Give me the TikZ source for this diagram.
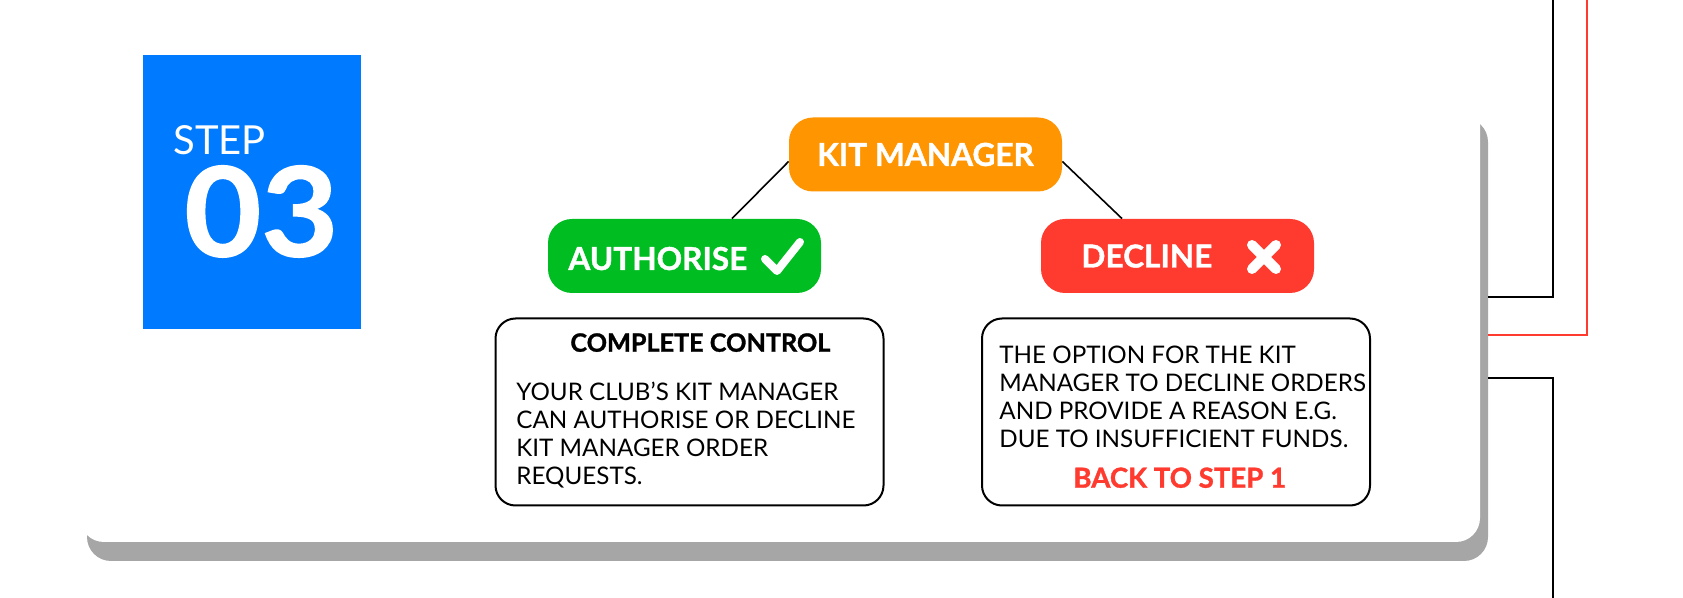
\documentclass[tikz,border=0pt]{standalone}
\usepackage{fontspec}
\setmainfont{Lato}
\newfontfamily\heavyfont{Lato}[BoldFeatures={FakeBold=1.2}]
\usetikzlibrary{positioning,calc}

\definecolor{stepblue}{HTML}{007BFF}
\definecolor{kitorange}{HTML}{FF9500}
\definecolor{okgreen}{HTML}{00BD22}
\definecolor{nored}{HTML}{FF3B30}
\definecolor{shadowgrey}{HTML}{A6A6A6}

\tikzset{
  pill/.style={rounded corners=12pt, minimum width=136.5pt, minimum height=37pt, inner sep=0pt},
  pilltext/.style={text=white, font=\fontsize{15.8}{18}\heavyfont\bfseries, inner sep=0pt},
  infobox/.style={draw, line width=1pt, rounded corners=10pt, minimum width=194pt, minimum height=93.5pt},
  bodytext/.style={font=\fontsize{12.1}{14.1}\selectfont, align=left, anchor=base west, inner sep=0pt},
  sideline/.style={line width=1pt}
}

\begin{document}
\begin{tikzpicture}[x=0.5pt,y=-0.5pt]
\fill[white] (0,0) rectangle (1683,598);
\useasboundingbox (0,0) rectangle (1683,598);
% card and shadow
\fill[shadowgrey, rounded corners=12pt] (87,118) rectangle (1488,561);
\fill[white, rounded corners=12pt] (80,100) rectangle (1480,542);
% step box
\node[fill=stepblue, minimum width=109pt, minimum height=137pt, anchor=north west, inner sep=0pt] (step) at (143,55) {};
\node[text=white, font=\fontsize{20}{24}\selectfont, anchor=base west, inner sep=0pt] (steplabel) at (173,154.5) {STEP};
\node[text=white, font=\fontsize{62}{70}\heavyfont\bfseries, anchor=base west, inner sep=0pt] (stepnum) at (184,256.3) {\scalebox{1.07}[1]{03}};
% pills
\node[pill, fill=kitorange, pilltext] (kit) at (925.5,154.5) {KIT MANAGER};
\node[pill, fill=okgreen] (auth) at (684.5,256) {};
\node[pilltext, anchor=base west] (authtext) at (568,270) {AUTHORISE};
\draw[white, line width=4pt, line cap=round, line join=round] (765,259) -- (777,271) -- (800,242);
\node[pill, fill=nored] (decl) at (1177.5,256) {};
\node[pilltext, anchor=base west] (decltext) at (1081,267.5) {DECLINE};
\draw[white, line width=5pt, line cap=round] (1252,245) -- (1276,269) (1276,245) -- (1252,269);
\draw[line width=0.8pt] ([yshift=-3.5pt]kit.west) -- ([xshift=23.75pt]auth.north);
\draw[line width=0.8pt] ([yshift=-3.5pt]kit.east) -- ([xshift=-27.75pt]decl.north);
% info boxes
\node[infobox] (ctrl) at (689.5,412) {};
\node[font=\fontsize{12.6}{15}\heavyfont\bfseries, anchor=base west, inner sep=0pt] (ctrlhead) at (570,351.7) {COMPLETE CONTROL};
\node[bodytext] (ctrlbody) at (516,485) {YOUR CLUB’S KIT MANAGER\\CAN AUTHORISE OR DECLINE\\KIT MANAGER ORDER\\REQUESTS.};
\node[infobox] (declbox) at (1176,412) {};
\node[bodytext] (declbody) at (999,447.7) {THE OPTION FOR THE KIT\\MANAGER TO DECLINE ORDERS\\AND PROVIDE A REASON E.G.\\DUE TO INSUFFICIENT FUNDS.};
\node[text=nored, font=\fontsize{13.8}{16}\heavyfont\bfseries, anchor=base, inner sep=0pt] (backstep) at (1179.7,487.7) {BACK TO STEP 1};
% side lines
\coordinate (topa) at (1553,0);
\coordinate (topb) at (1587,0);
\coordinate (bota) at (1553,598);
\coordinate (edgea) at (1488,297);
\coordinate (edgeb) at (1488,335);
\coordinate (edgec) at (1488,378);
\draw[sideline] (topa) |- (edgea);
\draw[sideline, nored] (topb) |- (edgeb);
\draw[sideline] (edgec) -| (bota);
\end{tikzpicture}
\end{document}
